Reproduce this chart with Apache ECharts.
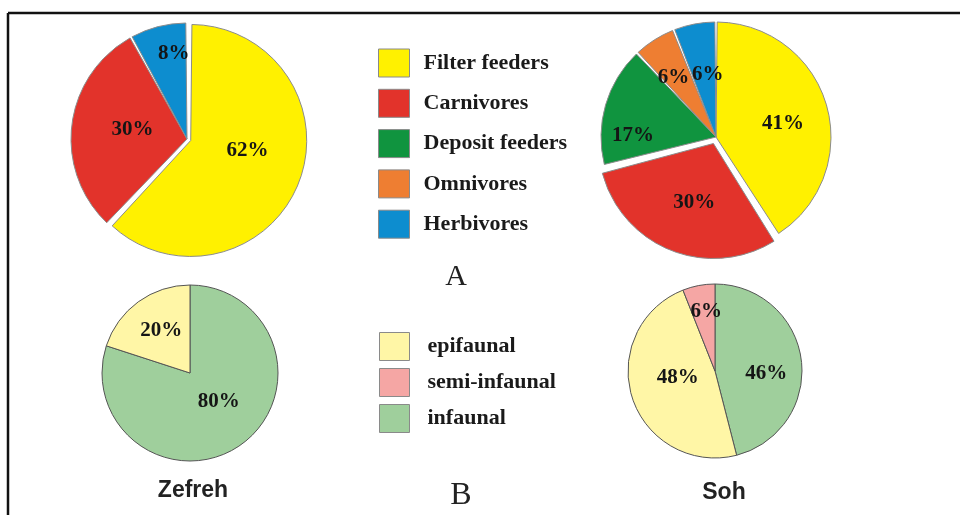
<!DOCTYPE html>
<html>
<head>
<meta charset="utf-8">
<script src="https://cdn.jsdelivr.net/npm/echarts@6/dist/echarts.min.js"></script>
<style>html,body{margin:0;padding:0;background:#fff;}#chart{width:960px;height:515px;}</style>
</head>
<body>
<div id="chart"></div>
<script>
// ---- data ----
const feedingCategories = ['Filter feeders', 'Carnivores', 'Deposit feeders', 'Omnivores', 'Herbivores'];
const zefrehFeeding = [62, 30, 0, 0, 8];
const sohFeeding = [41, 30, 17, 6, 6];
const habitatCategories = ['epifaunal', 'semi-infaunal', 'infaunal'];
const zefrehHabitat = [20, 0, 80];
const sohHabitat = [48, 6, 46];
const siteNames = ['Zefreh', 'Soh'];
const panelLetters = ['A', 'B'];

// ---- styles ----
const feedingColors = { 'Filter feeders': '#FFF100', 'Carnivores': '#E2332B', 'Deposit feeders': '#10943F', 'Omnivores': '#EE7E32', 'Herbivores': '#0D8DCF' };
const habitatColors = { 'epifaunal': '#FFF6A6', 'semi-infaunal': '#F5A6A4', 'infaunal': '#9FCF9C' };
const habitatOrder = [2, 0, 1]; // clockwise drawing order: infaunal, epifaunal, semi-infaunal
const explode = { zefrehFeeding: 'Filter feeders', sohFeeding: 'Carnivores' };
// label nudges [dx, dy] per category name
const nudgeZF = { 'Filter feeders': [0, -12], 'Carnivores': [6, -2], 'Herbivores': [2, -26] };
const nudgeSF = { 'Filter feeders': [9, 3], 'Carnivores': [3, 3], 'Deposit feeders': [-25, 15], 'Omnivores': [-10, -8], 'Herbivores': [3, -3] };
const nudgeZH = { 'infaunal': [1, -9], 'epifaunal': [-1, -4] };
const nudgeSH = { 'infaunal': [5, 8], 'epifaunal': [7, -8], 'semi-infaunal': [0, -14] };

const serif = "'Liberation Serif','Times New Roman',serif";
const sans = "'Liberation Sans',Arial,sans-serif";

function buildData(cats, vals, colors, order, selName) {
  const idx = order || cats.map((c, i) => i);
  return idx.filter(i => vals[i] > 0).map(i => ({
    name: cats[i], value: vals[i], selected: cats[i] === selName,
    itemStyle: { color: colors[cats[i]] }
  }));
}

function pieSeries(data, center, radius, nudges, opts) {
  return Object.assign({
    type: 'pie', center: center, radius: [0, radius], startAngle: 90, clockwise: true,
    data: data, animation: false, silent: true,
    emphasis: { disabled: true, scale: false },
    label: { show: true, position: 'inside', formatter: '{c}%', color: '#151515', fontFamily: serif, fontWeight: 'bold', fontSize: 21 },
    labelLine: { show: false },
    labelLayout: function (p) { const n = nudges[data[p.dataIndex].name] || [0, 0]; return { dx: n[0], dy: n[1] }; }
  }, opts);
}

const chart = echarts.init(document.getElementById('chart'), null, { renderer: 'canvas' });
chart.setOption({
  backgroundColor: '#fff',
  animation: false,
  legend: [
    {
      data: feedingCategories, orient: 'vertical', left: 378, top: 48.5, padding: 0,
      itemWidth: 31, itemHeight: 28, itemGap: 11.3, icon: 'rect', selectedMode: false,
      itemStyle: { borderColor: '#8a8a8a', borderWidth: 1 },
      textStyle: { fontFamily: serif, fontWeight: 'bold', fontSize: 22, color: '#1a1a1a', padding: [0, 0, 0, 9] }
    },
    {
      data: habitatCategories, orient: 'vertical', left: 379, top: 332, padding: 0,
      itemWidth: 30, itemHeight: 28, itemGap: 7, icon: 'rect', selectedMode: false,
      itemStyle: { borderColor: '#8a8a8a', borderWidth: 1 },
      textStyle: { fontFamily: serif, fontWeight: 'bold', fontSize: 22, color: '#1a1a1a', padding: [0, 0, 0, 13] }
    }
  ],
  series: [
    pieSeries(buildData(feedingCategories, zefrehFeeding, feedingColors, null, explode.zefrehFeeding), [187, 139], 116, nudgeZF,
      { padAngle: 1.2, selectedMode: 'multiple', selectedOffset: 4, itemStyle: { borderColor: '#8c8c8c', borderWidth: 1 } }),
    pieSeries(buildData(feedingCategories, sohFeeding, feedingColors, null, explode.sohFeeding), [716, 137], 115, nudgeSF,
      { padAngle: 1.2, selectedMode: 'multiple', selectedOffset: 7, itemStyle: { borderColor: '#8c8c8c', borderWidth: 1 } }),
    pieSeries(buildData(habitatCategories, zefrehHabitat, habitatColors, habitatOrder, null), [190, 373], 88, nudgeZH,
      { itemStyle: { borderColor: '#555', borderWidth: 1 } }),
    pieSeries(buildData(habitatCategories, sohHabitat, habitatColors, habitatOrder, null), [715, 371], 87, nudgeSH,
      { itemStyle: { borderColor: '#555', borderWidth: 1 } })
  ],
  graphic: [
    { type: 'line', shape: { x1: 8, y1: 13, x2: 960, y2: 13 }, style: { stroke: '#111', lineWidth: 2.5 }, silent: true },
    { type: 'line', shape: { x1: 8, y1: 13, x2: 8, y2: 515 }, style: { stroke: '#111', lineWidth: 2.5 }, silent: true },
    { type: 'text', x: 456, y: 277, style: { text: panelLetters[0], font: '30px ' + serif, fill: '#222', textAlign: 'center', textVerticalAlign: 'middle' }, silent: true },
    { type: 'text', x: 461, y: 496, style: { text: panelLetters[1], font: '32px ' + serif, fill: '#222', textAlign: 'center', textVerticalAlign: 'middle' }, silent: true },
    { type: 'text', x: 193, y: 491, style: { text: siteNames[0], font: 'bold 23px ' + sans, fill: '#222', textAlign: 'center', textVerticalAlign: 'middle' }, silent: true },
    { type: 'text', x: 724, y: 493, style: { text: siteNames[1], font: 'bold 23px ' + sans, fill: '#222', textAlign: 'center', textVerticalAlign: 'middle' }, silent: true }
  ]
});
</script>
</body>
</html>
